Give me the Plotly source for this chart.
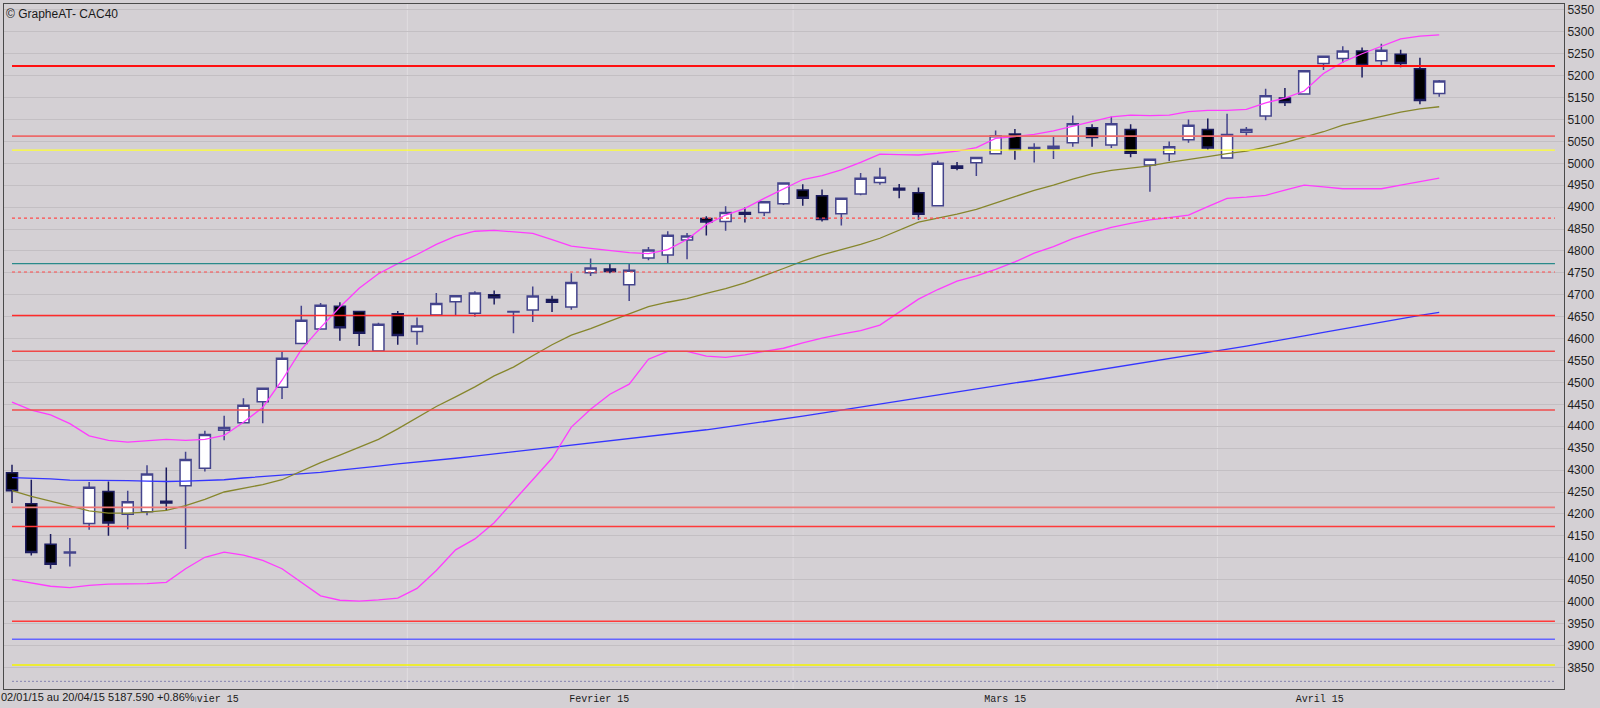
import plotly.graph_objects as go

# ---------------- data ----------------
dates = [
    "2015-01-02", "2015-01-05", "2015-01-06", "2015-01-07", "2015-01-08", "2015-01-09",
    "2015-01-12", "2015-01-13", "2015-01-14", "2015-01-15", "2015-01-16",
    "2015-01-19", "2015-01-20", "2015-01-21", "2015-01-22", "2015-01-23",
    "2015-01-26", "2015-01-27", "2015-01-28", "2015-01-29", "2015-01-30",
    "2015-02-02", "2015-02-03", "2015-02-04", "2015-02-05", "2015-02-06",
    "2015-02-09", "2015-02-10", "2015-02-11", "2015-02-12", "2015-02-13",
    "2015-02-16", "2015-02-17", "2015-02-18", "2015-02-19", "2015-02-20",
    "2015-02-23", "2015-02-24", "2015-02-25", "2015-02-26", "2015-02-27",
    "2015-03-02", "2015-03-03", "2015-03-04", "2015-03-05", "2015-03-06",
    "2015-03-09", "2015-03-10", "2015-03-11", "2015-03-12", "2015-03-13",
    "2015-03-16", "2015-03-17", "2015-03-18", "2015-03-19", "2015-03-20",
    "2015-03-23", "2015-03-24", "2015-03-25", "2015-03-26", "2015-03-27",
    "2015-03-30", "2015-03-31",
    "2015-04-01", "2015-04-02", "2015-04-07", "2015-04-08", "2015-04-09", "2015-04-10",
    "2015-04-13", "2015-04-14", "2015-04-15", "2015-04-16", "2015-04-17", "2015-04-20",
]

opens = [4294, 4223, 4131, 4111, 4178, 4251, 4199, 4205, 4229, 4264, 4304,
         4391, 4408, 4456, 4489, 4589, 4622, 4674, 4662, 4572, 4657,
         4616, 4654, 4684, 4658, 4700, 4661, 4665, 4689, 4672, 4750,
         4759, 4723, 4784, 4791, 4825, 4874, 4867, 4888, 4888, 4908,
         4939, 4926, 4885, 4930, 4956, 4943, 4933, 4903, 4994, 5001,
         5022, 5067, 5034, 5033, 5047, 5081, 5042, 5077, 4996, 5022,
         5054, 5077, 5012, 5071, 5108, 5149, 5158, 5228, 5239, 5256,
         5234, 5249, 5216, 5159]
highs = [4312, 4278, 4154, 4145, 4273, 4274, 4253, 4311, 4306, 4342, 4390,
         4424, 4464, 4487, 4571, 4675, 4681, 4683, 4663, 4636, 4663,
         4648, 4704, 4699, 4708, 4710, 4662, 4719, 4698, 4749, 4783,
         4771, 4770, 4809, 4845, 4841, 4879, 4902, 4899, 4912, 4955,
         4952, 4940, 4920, 4978, 4990, 4953, 4945, 5006, 5003, 5013,
         5075, 5078, 5046, 5061, 5109, 5089, 5107, 5089, 5009, 5050,
         5100, 5102, 5113, 5083, 5170, 5172, 5211, 5244, 5267, 5264,
         5273, 5259, 5241, 5190]
lows = [4225, 4105, 4075, 4080, 4164, 4150, 4165, 4197, 4207, 4120, 4297,
        4368, 4407, 4407, 4462, 4588, 4621, 4595, 4583, 4571, 4586,
        4586, 4653, 4653, 4650, 4678, 4612, 4638, 4661, 4666, 4743,
        4749, 4686, 4779, 4771, 4781, 4835, 4846, 4865, 4880, 4905,
        4903, 4867, 4858, 4927, 4951, 4920, 4871, 4902, 4984, 4971,
        5021, 5008, 5002, 5010, 5038, 5038, 5035, 5014, 4935, 5005,
        5047, 5031, 5011, 5062, 5098, 5131, 5157, 5213, 5229, 5196,
        5222, 5219, 5135, 5152]
closes = [4253, 4112, 4085, 4113, 4261, 4179, 4228, 4291, 4225, 4324, 4381,
          4397, 4448, 4487, 4555, 4642, 4676, 4625, 4612, 4633, 4607,
          4629, 4680, 4698, 4704, 4693, 4662, 4697, 4683, 4728, 4761,
          4753, 4756, 4802, 4836, 4834, 4866, 4888, 4884, 4912, 4955,
          4920, 4872, 4920, 4966, 4968, 4939, 4884, 5000, 4989, 5013,
          5063, 5031, 5036, 5039, 5090, 5059, 5090, 5023, 5009, 5038,
          5087, 5035, 5066, 5077, 5154, 5139, 5211, 5244, 5256, 5223,
          5258, 5228, 5143.4, 5187.59]

boll_upper = [4455, 4437, 4426, 4406, 4378, 4368, 4364, 4367, 4370, 4368, 4370,
              4379, 4409, 4443, 4505, 4575, 4625, 4672, 4715, 4748, 4771,
              4792, 4815, 4834, 4845, 4847, 4843, 4840, 4826, 4811, 4806,
              4801, 4796, 4794, 4803, 4826, 4860, 4882, 4897, 4920, 4942,
              4963, 4972, 4985, 5002, 5021, 5020, 5019, 5023, 5028, 5036,
              5057, 5061, 5066, 5074, 5085, 5095, 5106, 5110, 5109, 5110,
              5118, 5121, 5121, 5123, 5138, 5149, 5165, 5205, 5231, 5250,
              5267, 5284, 5290, 5293]
boll_lower = [4050, 4043, 4035, 4032, 4037, 4040, 4041, 4041, 4044, 4075, 4101,
              4113, 4106, 4094, 4075, 4045, 4013, 4003, 4001, 4004, 4008,
              4030, 4071, 4118, 4143, 4180, 4229, 4276, 4327, 4398, 4439,
              4473, 4496, 4553, 4571, 4571, 4560, 4557, 4563, 4571, 4578,
              4590, 4601, 4610, 4618, 4631, 4660, 4690, 4712, 4731, 4743,
              4758, 4775, 4795, 4810, 4828, 4842, 4854, 4863, 4871, 4876,
              4882, 4901, 4920, 4923, 4927, 4939, 4950, 4946, 4942, 4942,
              4942, 4950, 4958, 4966]
boll_mid = [4253, 4240, 4229, 4218, 4207, 4202, 4202, 4204, 4208, 4219, 4233,
            4250, 4258, 4267, 4278, 4298, 4317, 4334, 4352, 4370, 4394,
            4420, 4445, 4467, 4490, 4515, 4535, 4561, 4586, 4608, 4623,
            4640, 4657, 4673, 4683, 4691, 4703, 4714, 4727, 4743, 4760,
            4777, 4791, 4803, 4815, 4829, 4848, 4866, 4875, 4884, 4895,
            4910, 4924, 4938, 4950, 4964, 4976, 4984, 4989, 4994, 5002,
            5008, 5015, 5022, 5028, 5037, 5047, 5060, 5072, 5087, 5097,
            5108, 5117, 5124, 5129]
ma_long = [4283, 4282, 4280, 4277, 4277, 4277, 4276, 4275, 4274, 4275, 4276,
           4278, 4282, 4285, 4288, 4291, 4295, 4300, 4304, 4309, 4314,
           4318, 4322, 4327, 4332, 4337, 4341, 4346, 4351, 4356, 4361,
           4366, 4371, 4376, 4381, 4386, 4392, 4398, 4404, 4410, 4416,
           4423, 4430, 4437, 4444, 4451, 4457, 4464, 4471, 4478, 4485,
           4492, 4499, 4505, 4512, 4519, 4526, 4533, 4540, 4547, 4554,
           4561, 4568, 4576, 4583, 4591, 4598, 4606, 4614, 4622, 4630,
           4638, 4646, 4653, 4660]

levels = [5222, 5062, 5030, 4875, 4771, 4752, 4653, 4571, 4437, 4215, 4171,
          3955, 3914, 3855, 3818]

month_labels = ["Janvier 15", "Fevrier 15", "Mars 15", "Avril 15"]
month_label_pos = [10.2, 30.45, 51.5, 67.8]
y_ticks = list(range(3850, 5351, 50))

# ---------------- styles ----------------
level_styles = {
    5222: ("#ff1010", 2.2, "solid"),
    5062: ("#ec6a6a", 1.6, "solid"),
    5030: ("#ffff30", 1.4, "solid"),
    4875: ("#ff4a4a", 1.2, "3px,3px"),
    4771: ("#2a8a8a", 1.4, "solid"),
    4752: ("#ff4a4a", 1.2, "3px,3px"),
    4653: ("#ff2a2a", 1.5, "solid"),
    4571: ("#f04848", 1.5, "solid"),
    4437: ("#f04c4c", 1.5, "solid"),
    4215: ("#ee7878", 1.8, "solid"),
    4171: ("#ff3a3a", 1.5, "solid"),
    3955: ("#ff3a3a", 1.5, "solid"),
    3914: ("#6464ff", 1.5, "solid"),
    3855: ("#f4f400", 1.5, "solid"),
    3818: ("#8484b0", 1.0, "2px,2px"),
}

BG = "#d4d0d4"
idx = list(range(len(dates)))


def fmt(d):
    y, m, dd = d.split("-")
    return f"{dd}/{m}/{y[2:]}"


fig = go.Figure()

fig.add_trace(go.Candlestick(
    x=idx, open=opens, high=highs, low=lows, close=closes,
    hovertext=dates,
    increasing=dict(fillcolor="#ffffff", line=dict(color="#44448c", width=1.5)),
    decreasing=dict(fillcolor="#000000", line=dict(color="#1c1c5e", width=1.5)),
    whiskerwidth=0, showlegend=False,
))

for vals, col, w in [(ma_long, "#3535ff", 1.3),
                     (boll_mid, "#86862c", 1.3),
                     (boll_upper, "#ff3cff", 1.3),
                     (boll_lower, "#ff3cff", 1.3)]:
    fig.add_trace(go.Scatter(x=idx, y=vals, mode="lines",
                             line=dict(color=col, width=w),
                             hoverinfo="skip", showlegend=False))

shapes = []
# month separators
for i in range(1, len(dates)):
    if dates[i][5:7] != dates[i - 1][5:7]:
        shapes.append(dict(type="line", xref="x", yref="paper",
                           x0=i - 0.5, x1=i - 0.5, y0=0, y1=1,
                           line=dict(color="#e0dce0", width=1), layer="below"))
# horizontal levels
for lv in levels:
    col, w, dash = level_styles[lv]
    shapes.append(dict(type="line", xref="x", yref="y",
                       x0=0, x1=80, y0=lv, y1=lv,
                       line=dict(color=col, width=w, dash=dash), layer="above"))

pct = (closes[-1] / closes[-2] - 1) * 100
info_text = f"{fmt(dates[0])} au {fmt(dates[-1])} {closes[-1]:.3f} {pct:+.2f}%"

fig.update_layout(
    width=1600, height=708,
    margin=dict(l=3, r=36, t=3, b=11),
    paper_bgcolor=BG, plot_bgcolor=BG,
    boxgap=0.18,
    shapes=shapes,
    xaxis=dict(
        range=[-0.415, 80.47], rangeslider=dict(visible=False),
        showgrid=False, zeroline=False,
        tickmode="array", tickvals=month_label_pos, ticktext=month_labels,
        ticks="", tickfont=dict(family="Liberation Mono, DejaVu Sans Mono, monospace",
                                size=10, color="#1a1a1a"),
        showline=True, linecolor="#4a4a4a", linewidth=1, mirror=True,
    ),
    yaxis=dict(
        range=[3800.5, 5363.5], side="right",
        tickmode="array", tickvals=y_ticks, ticktext=[str(v) for v in y_ticks],
        showgrid=True, gridcolor="#c3bfc3", gridwidth=1, zeroline=False,
        ticks="", tickfont=dict(family="Liberation Sans Narrow, Liberation Sans, Arial, sans-serif",
                                size=12, color="#1e1e1e"),
        showline=True, linecolor="#4a4a4a", linewidth=1, mirror=True,
    ),
    annotations=[
        dict(text="© GrapheAT- CAC40", xref="paper", yref="paper", x=0, y=1,
             xanchor="left", yanchor="top", showarrow=False, xshift=0, yshift=-1,
             font=dict(family="Liberation Sans, Arial, sans-serif", size=12, color="#1a1a1a")),
        dict(text=info_text, xref="paper", yref="paper", x=0, y=0,
             xanchor="left", yanchor="top", showarrow=False, xshift=-4, yshift=-1,
             bgcolor=BG, borderpad=0,
             font=dict(family="Liberation Sans Narrow, Liberation Sans, Arial, sans-serif",
                       size=11, color="#1a1a1a")),
    ],
    hovermode=False,
)

fig.write_html(
    "out.html",
    config={"displayModeBar": False, "staticPlot": True},
    post_script="document.body.style.margin='0';document.body.style.padding='0';"
                "document.body.style.overflow='hidden';"
                "document.body.style.background='" + BG + "';",
)
